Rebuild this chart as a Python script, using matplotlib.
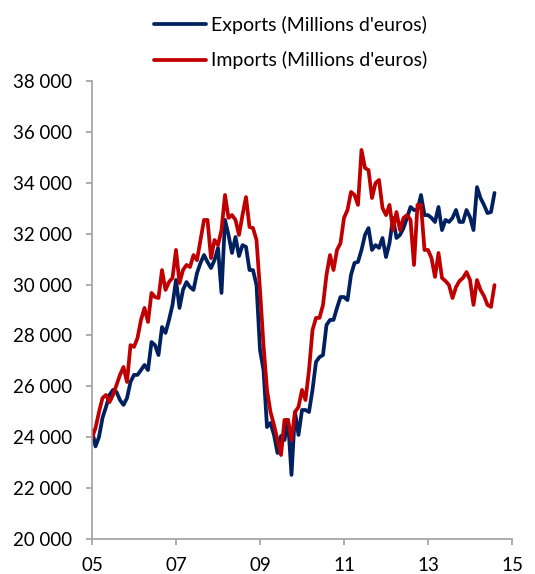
import matplotlib
matplotlib.use("Agg")
import matplotlib.pyplot as plt
import numpy as np

# Monthly data, Jan 2005 onward
exports = [24280, 23640, 24010, 24760, 25190, 25660, 25860, 25780, 25460, 25270,
           25540, 26170, 26450, 26450, 26640, 26840, 26640, 27740, 27620, 27230,
           28330, 28100, 28610, 29200, 30180, 29080, 29790, 30100, 29900, 29790,
           30450, 30850, 31160, 30890, 30650, 30960, 31440, 29670, 32540, 31950,
           31240, 31870, 31120, 31550, 31480, 30570, 30570, 29980, 27430, 26640,
           24400, 24560, 24090, 23380, 24050, 23890, 24680, 22520, 24990, 24090,
           25070, 25070, 24990, 25860, 26960, 27150, 27230, 28410, 28610, 28610,
           29080, 29510, 29510, 29390, 30380, 30850, 30890, 31360, 31950, 32220,
           31360, 31550, 31440, 31830, 31080, 31630, 32620, 31830, 31950, 32220,
           32620, 33050, 32930, 32930, 33520, 32730, 32730, 32620, 32460, 33050,
           32140, 32540, 32460, 32620, 32930, 32460, 32460, 32930, 32650, 32140,
           33830, 33400, 33130, 32810, 32850, 33600]
imports = [23970, 24360, 24990, 25540, 25660, 25380, 25660, 26050, 26450, 26760,
           26170, 27620, 27550, 27900, 28610, 29080, 28530, 29670, 29510, 29470,
           30570, 29790, 30100, 30260, 31360, 30060, 30570, 30770, 30690, 31160,
           30960, 31750, 32540, 32540, 31040, 31750, 31550, 32140, 33520, 32620,
           32730, 32540, 31950, 32730, 33440, 32260, 32220, 31750, 29790, 27620,
           25860, 24990, 24480, 23890, 23300, 24680, 24680, 23890, 24990, 25190,
           25860, 25460, 26640, 28210, 28690, 28690, 29200, 30380, 31160, 30570,
           31360, 31630, 32620, 32930, 33640, 33520, 33130, 35290, 34580, 34500,
           33400, 33990, 34110, 33010, 32730, 33130, 32140, 32850, 32140, 32620,
           32730, 32540, 30770, 33130, 33130, 31360, 31360, 31040, 30300, 31240,
           30260, 30140, 29980, 29470, 29900, 30140, 30260, 30490, 30180, 29200,
           30180, 29790, 29550, 29200, 29120, 29980]
start_year = 2005
series_labels = ["Exports (Millions d'euros)", "Imports (Millions d'euros)"]
x_ticks = [2005, 2007, 2009, 2011, 2013, 2015]
x_tick_labels = ["05", "07", "09", "11", "13", "15"]
y_ticks = list(range(20000, 38001, 2000))
y_tick_labels = [f"{v // 1000} 000" for v in y_ticks]

plt.rcParams['font.family'] = ['Lato', 'DejaVu Sans']

fig = plt.figure(figsize=(5.35, 5.74), dpi=100)
ax = fig.add_axes([92 / 535, 1 - 539 / 574, (512 - 92) / 535, (539 - 81) / 574])

t = start_year + np.arange(len(exports)) / 12.0
l1, = ax.plot(t, exports, color='#002060', lw=2.7, solid_joinstyle='round', solid_capstyle='round')
l2, = ax.plot(t, imports, color='#C00000', lw=2.7, solid_joinstyle='round', solid_capstyle='round')

ax.set_xlim(2005, 2015)
ax.set_ylim(20000, 38000)
ax.set_xticks(x_ticks)
ax.set_xticklabels(x_tick_labels)
ax.set_yticks(y_ticks)
ax.set_yticklabels(y_tick_labels)

for s in ['top', 'right']:
    ax.spines[s].set_visible(False)
for s in ['left', 'bottom']:
    ax.spines[s].set_color('#A0A0A0')
    ax.spines[s].set_linewidth(1.2)
ax.tick_params(axis='both', colors='#A0A0A0', length=4, width=1.2, labelsize=13.5,
               labelcolor='black', direction='out')
ax.tick_params(axis='x', pad=9)
ax.tick_params(axis='y', pad=10)

fig.legend([l1, l2], series_labels, loc='upper left', bbox_to_anchor=(146 / 535, 1 - 8 / 574),
           frameon=False, fontsize=14, handlelength=2.7, handletextpad=0.25, labelspacing=0.9,
           borderaxespad=0)

fig.savefig('out.png', dpi=100)
